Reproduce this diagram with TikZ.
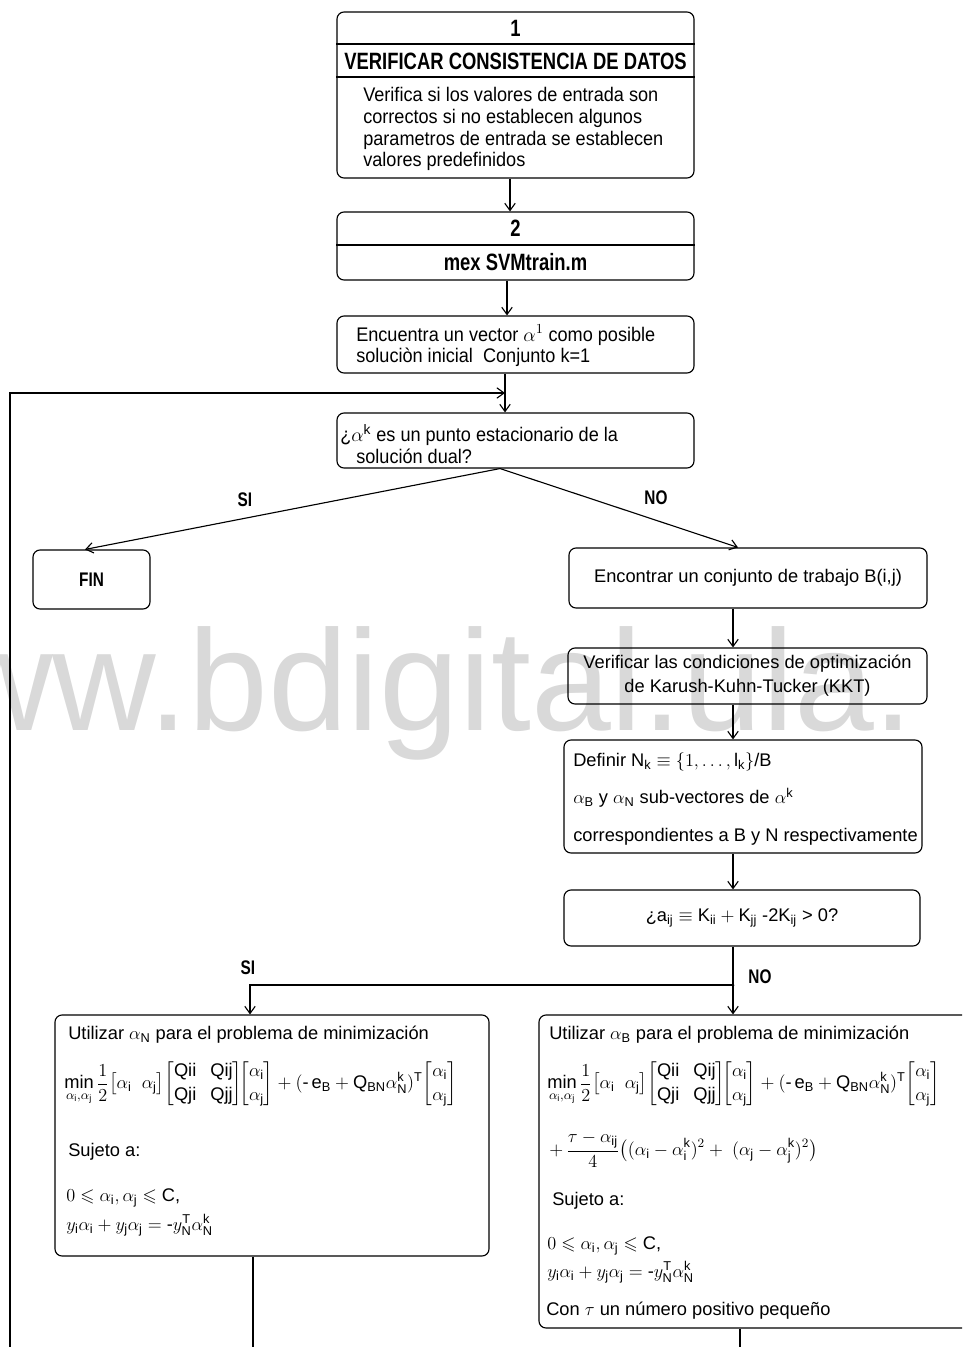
\documentclass[tikz,border=0pt]{standalone}
\usepackage{fix-cm}
\usepackage{amsmath,amssymb}
\usepackage{fontspec}
\setmainfont{Liberation Sans}
\newfontfamily\narrowsans[FakeStretch=0.92]{Liberation Sans}
\newfontfamily\titlesans[FakeStretch=0.78]{Liberation Sans}
\usetikzlibrary{arrows.meta, positioning, calc}
\newdimen\pxu
\pxu=0.025cm
\newcommand{\ali}{\alpha_{\mathrm{i}}}
\newcommand{\alj}{\alpha_{\mathrm{j}}}

\begin{document}
\begin{tikzpicture}[
    x=0.025cm, y=-0.025cm,
    box/.style={draw, line width=0.8pt, rounded corners=5pt, inner sep=0pt},
    arrow/.style={-{Straight Barb[length=1.8mm, width=2.6mm]}, line width=0.8pt},
    link/.style={line width=0.8pt},
    upper/.style={font=\narrowsans\fontsize{14}{15.6}\selectfont, align=left, inner sep=0pt},
    lower/.style={font=\fontsize{13}{17}\selectfont, inner sep=0pt},
    ttl/.style={font=\titlesans\bfseries\fontsize{16.8}{19}\selectfont, inner sep=0pt},
    lbl/.style={font=\titlesans\bfseries\fontsize{14}{16}\selectfont, inner sep=0pt},
]
    \useasboundingbox (0,0) rectangle (962,1347);
    \clip (0,0) rectangle (962,1347);

    % watermark
    \node[anchor=base west, inner sep=0pt, text=black!15,
          font=\fontsize{102}{102}\selectfont] (mark) at (-51,730) {ww.bdigital.ula.};

    % main column
    \node[box, minimum width=357*\pxu, minimum height=166*\pxu] (chk) at (515.5,95) {};
    \node[ttl] (chknum) at (515.5,28) {1};
    \node[ttl] (chkttl) at (515.5,61) {VERIFICAR CONSISTENCIA DE DATOS};
    \node[upper, anchor=west] (chktxt) at (363,129)
        {Verifica si los valores de entrada son\\correctos si no establecen algunos\\
         parametros de entrada se establecen\\valores predefinidos};
    \draw[link] (chk.west |- 0,44) -- (chk.east |- 0,44);
    \draw[link] (chk.west |- 0,77) -- (chk.east |- 0,77);

    \node[box, minimum width=357*\pxu, minimum height=68*\pxu] (mex) at (515.5,246) {};
    \node[ttl] (mexnum) at (515.5,228) {2};
    \node[ttl] (mexttl) at (515.5,262) {mex SVMtrain.m};
    \draw[link] (mex.west |- 0,245) -- (mex.east |- 0,245);

    \node[box, minimum width=357*\pxu, minimum height=57*\pxu] (init) at (515.5,344.5) {};
    \node[upper, anchor=west] (inittxt) at (356,346)
        {Encuentra un vector $\alpha^{1}$ como posible\\soluciòn inicial\ \ Conjunto k=1};

    \node[box, minimum width=357*\pxu, minimum height=55*\pxu] (stat) at (515.5,440.5) {};
    \node[upper, anchor=west] (stattxt) at (340,444)
        {¿$\alpha^{\mathrm{k}}$ es un punto estacionario de la\\\hspace*{0.4cm}solución dual?};

    \draw[arrow] (chk.south -| 510,0) -- (mex.north -| 510,0);
    \draw[arrow] (mex.south -| 507,0) -- (init.north -| 507,0);
    \draw[arrow] (init.south -| 505,0) -- (stat.north -| 505,0);

    % loop back from below
    \coordinate (loopbot) at (10,1347);
    \coordinate (looptop) at (10,393);
    \coordinate (loopin) at (505,393);
    \draw[arrow] (loopbot) -- (looptop) -- (loopin);

    % first decision
    \node[box, minimum width=117*\pxu, minimum height=59*\pxu, lbl] (fin) at (91.5,579.5) {FIN};
    \node[box, lower, minimum width=358*\pxu, minimum height=60*\pxu] (work) at (748,578)
        {Encontrar un conjunto de trabajo B(i,j)};
    \coordinate (split) at (stat.south -| 500,0);
    \draw[arrow] (split) -- (fin.north -| 85,0);
    \draw[arrow] (split) -- (work.north -| 738,0);
    \node[lbl] (statsi) at (245,500) {SI};
    \node[lbl] (statno) at (656,498) {NO};

    % right column
    \node[box, lower, align=center, minimum width=359*\pxu, minimum height=56*\pxu] (kkt) at (747.5,676)
        {Verificar las condiciones de optimización\\de Karush-Kuhn-Tucker (KKT)};
    \node[box, minimum width=358*\pxu, minimum height=113*\pxu] (defn) at (743,796.5) {};
    \node[lower, anchor=west, align=left, font=\fontsize{13}{26.6}\selectfont] (defntxt) at (573,799)
        {Definir N$_{\mathrm{k}}\equiv\{1,\ldots,\mathrm{l}_{\mathrm{k}}\}$/B\\
         $\alpha_{\mathrm{B}}$ y $\alpha_{\mathrm{N}}$ sub-vectores de $\alpha^{\mathrm{k}}$\\
         correspondientes a B y N respectivamente};
    \node[box, lower, minimum width=356*\pxu, minimum height=56*\pxu] (ineq) at (742,918)
        {¿$\mathrm{a_{ij}}\equiv\mathrm{K_{ii}}+\mathrm{K_{jj}}$ -2$\mathrm{K_{ij}}$ > 0?};

    \draw[arrow] (work.south -| 733,0) -- (kkt.north -| 733,0);
    \draw[arrow] (kkt.south -| 733,0) -- (defn.north -| 733,0);
    \draw[arrow] (defn.south -| 733,0) -- (ineq.north -| 733,0);

    % minimisation boxes
    \node[box, minimum width=434*\pxu, minimum height=241*\pxu] (cni) at (272,1135.5) {};
    \node[box, minimum width=436*\pxu, minimum height=313*\pxu] (cbi) at (757,1171.5) {};

    \coordinate (fork) at (ineq.south |- 0,985);
    \draw[arrow] (ineq.south -| 733,0) -- (cbi.north -| 733,0);
    \draw[arrow] (fork -| 733,0) -| (cni.north -| 250,0);
    \fill (fork -| 733,0) circle (1.5);
    \node[lbl] (ineqsi) at (248,968) {SI};
    \node[lbl] (ineqno) at (760,977) {NO};

    \node[lower, anchor=west] (cni1) at (68,1035)
        {Utilizar $\alpha_{\mathrm{N}}$ para el problema de minimización};
    \node[lower, anchor=west] (cni2) at (64,1084)
        {$\displaystyle\min_{\ali,\alj}\frac{1}{2}\bigl[\ali\;\;\alj\bigr]\!
          \begin{bmatrix}\mathrm{Qii}&\mathrm{Qij}\\ \mathrm{Qji}&\mathrm{Qjj}\end{bmatrix}\!\!
          \begin{bmatrix}\ali\\ \alj\end{bmatrix}
          +(\text{-}\,\mathrm{e_B}+\mathrm{Q_{BN}}\alpha^{\mathrm{k}}_{\mathrm{N}})^{\mathrm{T}}\!
          \begin{bmatrix}\ali\\ \alj\end{bmatrix}$};
    \node[lower, anchor=west] (cni3) at (68,1152) {Sujeto a:};
    \node[lower, anchor=west] (cni4) at (66,1198) {$0\leqslant\ali,\alj\leqslant\mathrm{C}$,};
    \node[lower, anchor=west] (cni5) at (66,1225)
        {$y_{\mathrm{i}}\ali+y_{\mathrm{j}}\alj=\text{-}y^{\mathrm{T}}_{\mathrm{N}}\alpha^{\mathrm{k}}_{\mathrm{N}}$};

    \node[lower, anchor=west] (cbi1) at (549,1035)
        {Utilizar $\alpha_{\mathrm{B}}$ para el problema de minimización};
    \node[lower, anchor=west] (cbi2) at (547,1084)
        {$\displaystyle\min_{\ali,\alj}\frac{1}{2}\bigl[\ali\;\;\alj\bigr]\!
          \begin{bmatrix}\mathrm{Qii}&\mathrm{Qij}\\ \mathrm{Qji}&\mathrm{Qjj}\end{bmatrix}\!\!
          \begin{bmatrix}\ali\\ \alj\end{bmatrix}
          +(\text{-}\,\mathrm{e_B}+\mathrm{Q_{BN}}\alpha^{\mathrm{k}}_{\mathrm{N}})^{\mathrm{T}}\!
          \begin{bmatrix}\ali\\ \alj\end{bmatrix}$};
    \node[lower, anchor=west] (cbi3) at (549,1150)
        {$\displaystyle+\,\frac{\tau-\alpha_{\mathrm{ij}}}{4}\bigl((\ali-\ali^{\mathrm{k}})^{2}+\;(\alj-\alj^{\mathrm{k}})^{2}\bigr)$};
    \node[lower, anchor=west] (cbi4) at (552,1201) {Sujeto a:};
    \node[lower, anchor=west] (cbi5) at (547,1246) {$0\leqslant\ali,\alj\leqslant\mathrm{C}$,};
    \node[lower, anchor=west] (cbi6) at (547,1272)
        {$y_{\mathrm{i}}\ali+y_{\mathrm{j}}\alj=\text{-}y^{\mathrm{T}}_{\mathrm{N}}\alpha^{\mathrm{k}}_{\mathrm{N}}$};
    \node[lower, anchor=west] (cbi7) at (546,1311) {Con $\tau$ un número positivo pequeño};

    % continuation below the page
    \coordinate (lout) at (253,1347);
    \coordinate (rout) at (740,1347);
    \draw[link] (cni.south -| 253,0) -- (lout);
    \draw[link] (cbi.south -| 740,0) -- (rout);
\end{tikzpicture}
\end{document}
